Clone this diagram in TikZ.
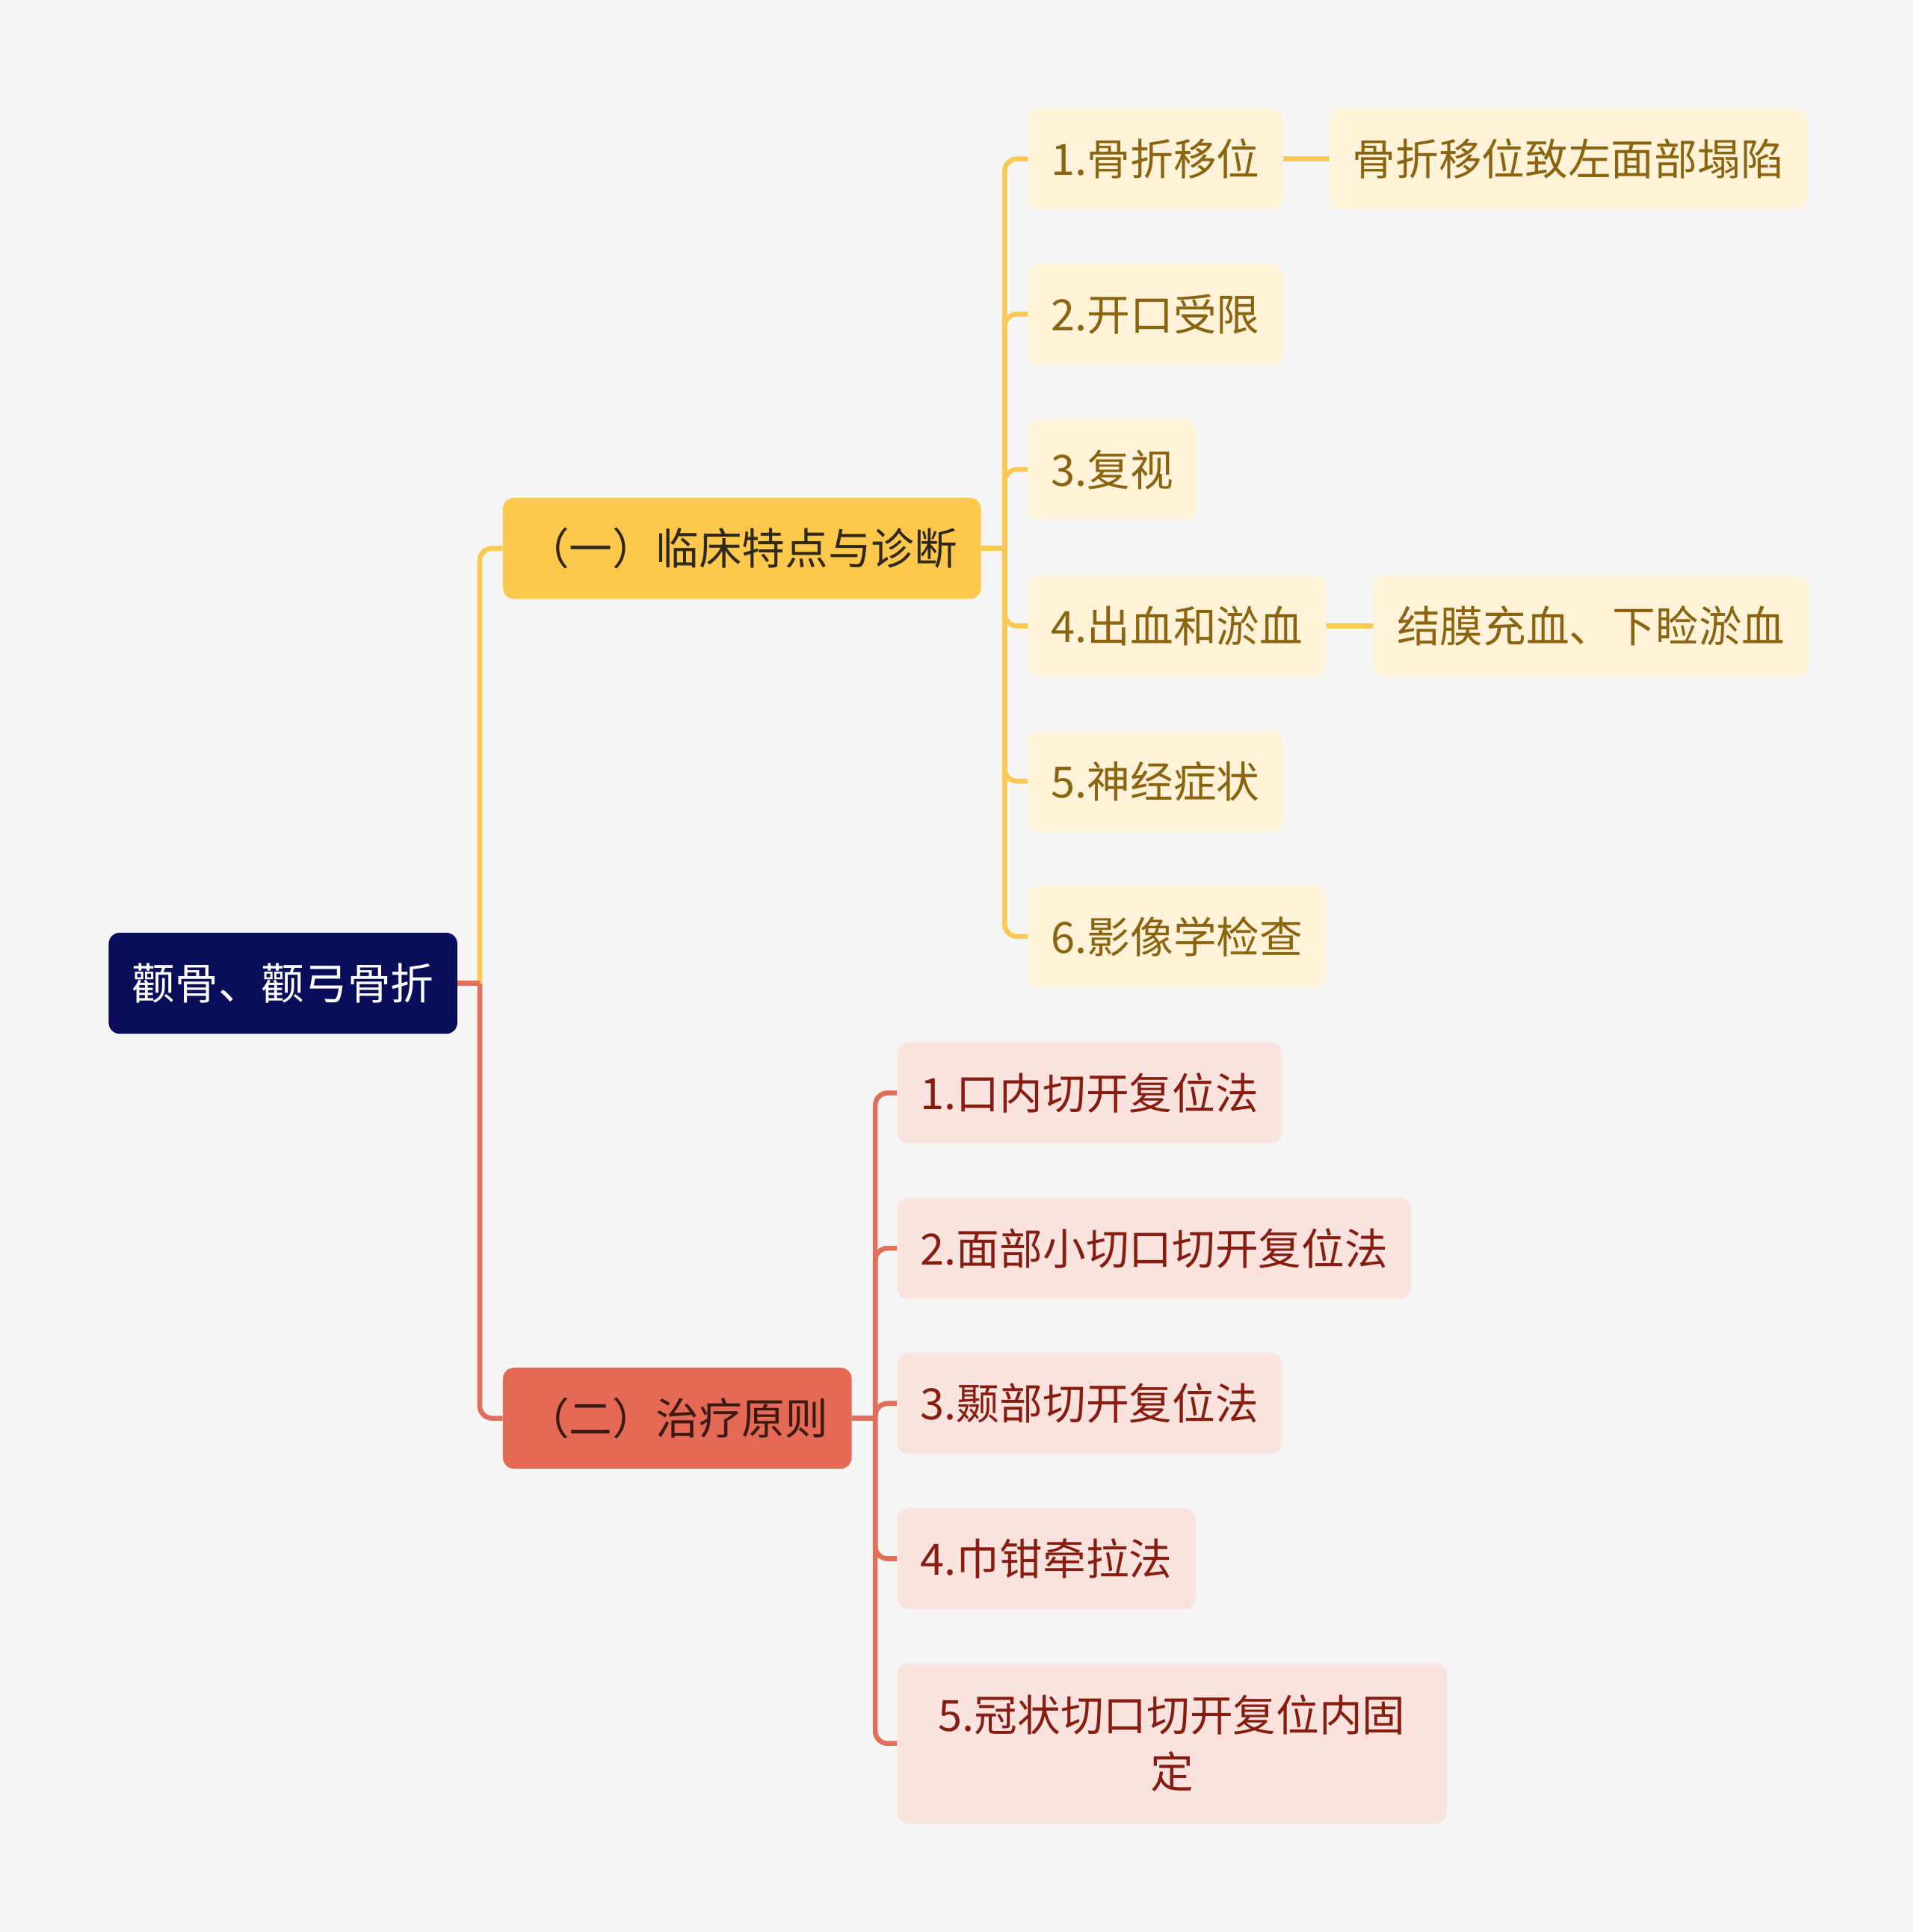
\documentclass[tikz,border=0pt]{standalone}
\usepackage{fontspec}
\newfontfamily\cjk{Noto Sans CJK SC}
\usepackage{xcolor}
\usetikzlibrary{positioning,calc}
\definecolor{bgcol}{HTML}{F5F5F5}
\definecolor{rootcol}{HTML}{0A0E5A}
\definecolor{ymain}{HTML}{FDC84B}
\definecolor{ylight}{HTML}{FEF3D9}
\definecolor{ytext}{HTML}{8B6410}
\definecolor{ydark}{HTML}{30291A}
\definecolor{yline}{HTML}{FAC952}
\definecolor{rmain}{HTML}{E46A55}
\definecolor{rlight}{HTML}{FAE3DE}
\definecolor{rtext}{HTML}{861D10}
\definecolor{rdark}{HTML}{3A1A12}
\definecolor{rline}{HTML}{E06F5A}
\tikzset{
  basebox/.style={rounded corners=9pt,minimum height=82pt,inner xsep=19pt,inner ysep=0pt,
    font=\cjk\fontsize{35}{46}\selectfont,anchor=west},
  rootbox/.style={basebox,fill=rootcol,text=white},
  ytopbox/.style={basebox,fill=ymain,text=ydark},
  rtopbox/.style={basebox,fill=rmain,text=rdark},
  yitem/.style={basebox,fill=ylight,text=ytext},
  ritem/.style={basebox,fill=rlight,text=rtext},
  ylink/.style={draw=yline,line width=4pt,rounded corners=10pt},
  rlink/.style={draw=rline,line width=4pt,rounded corners=10pt}
}
\begin{document}
\begin{tikzpicture}[x=1pt,y=-1pt]
  \fill[bgcol] (0,0) rectangle (1553,1568);
  \useasboundingbox (0,0) rectangle (1553,1568);
  % root and the two branches
  \node[rootbox] (root) at (88,798) {颧骨、颧弓骨折};
  \node[ytopbox] (clin) at (408,445) {（一）临床特点与诊断};
  \node[rtopbox] (treat) at (408,1151) {（二）治疗原则};
  % clinical items
  \node[yitem] (c1) at (834,129) {1.骨折移位};
  \node[yitem,right=37pt of c1] (c1x) {骨折移位致左面部塌陷};
  \node[yitem] (c2) at (834,255) {2.开口受限};
  \node[yitem] (c3) at (834,381) {3.复视};
  \node[yitem] (c4) at (834,508) {4.出血和淤血};
  \node[yitem,right=38pt of c4] (c4x) {结膜充血、下睑淤血};
  \node[yitem] (c5) at (834,634) {5.神经症状};
  \node[yitem] (c6) at (834,760) {6.影像学检查};
  % treatment items
  \node[ritem] (t1) at (728,887) {1.口内切开复位法};
  \node[ritem] (t2) at (728,1013) {2.面部小切口切开复位法};
  \node[ritem] (t3) at (728,1139) {3.颞部切开复位法};
  \node[ritem] (t4) at (728,1265) {4.巾钳牵拉法};
  \node[ritem,text width=408pt,align=center,minimum height=130pt] (t5) at (728,1415)
    {5.冠状切口切开复位内固\\定};
  % links
  \coordinate (rootj) at ($(root.east)+(18,0)$);
  \coordinate (clinj) at ($(clin.east)+(19,0)$);
  \coordinate (treatj) at ($(treat.east)+(19,0)$);
  \draw[ylink] (rootj) |- (clin.west);
  \draw[rlink] (rootj) |- (treat.west);
  \draw[rlink] (root.east) -- (rootj);
  \draw[ylink] (clin.east) -- (clinj);
  \foreach \n in {c1,c2,c3,c4,c5,c6}
    \draw[ylink] (clinj) |- (\n.west);
  \draw[rlink] (treat.east) -- (treatj);
  \foreach \n in {t1,t2,t3,t4,t5}
    \draw[rlink] (treatj) |- (\n.west);
  \draw[ylink] (c1.east) -- (c1x.west);
  \draw[ylink] (c4.east) -- (c4x.west);
\end{tikzpicture}
\end{document}
